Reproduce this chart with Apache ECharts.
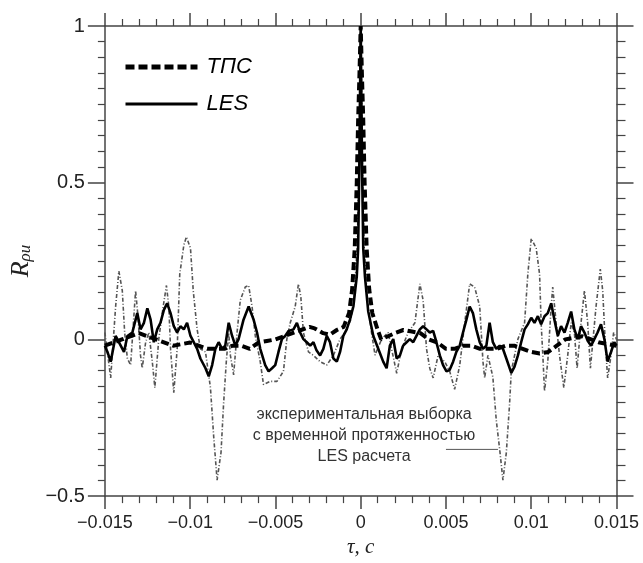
<!DOCTYPE html>
<html>
<head>
<meta charset="utf-8">
<script src="https://cdn.jsdelivr.net/npm/echarts@6/dist/echarts.min.js"></script>
<style>
  html, body { margin: 0; padding: 0; background: #fff; }
  #main { width: 643px; height: 563px; }
</style>
</head>
<body>
<div id="main"></div>
<script>
// tick labels
var xTicks = [-0.015, -0.01, -0.005, 0, 0.005, 0.01, 0.015];
var yTicks = [-0.5, 0, 0.5, 1];

// experimental sample (dash-dot)
var tauExp = [-0.015, -0.01466, -0.01437, -0.01418, -0.01398, -0.01384, -0.01368, -0.01349, -0.0133, -0.0132,
  -0.01306, -0.01291, -0.01281, -0.01261, -0.01242, -0.01222, -0.01207, -0.01184, -0.01158, -0.01139,
  -0.01125, -0.01115, -0.01096, -0.01076, -0.01061, -0.01037, -0.01022, -0.00998, -0.00982, -0.00959,
  -0.0094, -0.0091, -0.00881, -0.00862, -0.00842, -0.00819, -0.00804, -0.00788, -0.00774, -0.00764,
  -0.00745, -0.00725, -0.00706, -0.00677, -0.00657, -0.00637, -0.00618, -0.00589, -0.0057, -0.0053,
  -0.00491, -0.00453, -0.00433, -0.00413, -0.00384, -0.00365, -0.00351, -0.00336, -0.00306, -0.00277,
  -0.00238, -0.00199, -0.0016, -0.00121, -0.00092, -0.0006, -0.0004, -0.0002, -0.0001, 0,
  0.0001, 0.0002, 0.0004, 0.00064, 0.00084, 0.00123, 0.00161, 0.00201, 0.00211, 0.0024,
  0.00278, 0.00318, 0.00347, 0.00366, 0.00386, 0.00405, 0.00425, 0.00454, 0.00493, 0.00522,
  0.00551, 0.00581, 0.0061, 0.00639, 0.00668, 0.00698, 0.00717, 0.00727, 0.00746, 0.00775,
  0.00795, 0.00815, 0.00834, 0.00854, 0.00873, 0.00883, 0.00922, 0.00961, 0.0098, 0.01,
  0.01029, 0.01049, 0.01058, 0.01068, 0.01078, 0.01097, 0.01117, 0.01126, 0.01146, 0.01166,
  0.01191, 0.01214, 0.01234, 0.01253, 0.01269, 0.01292, 0.01312, 0.01331, 0.01347, 0.0138,
  0.01405, 0.01419, 0.01433, 0.01448, 0.01468, 0.01483, 0.015];
var valExp = [0.022, -0.123, 0.105, 0.218, 0.156, 0.022, -0.061, -0.082, 0.074, 0.156,
  0.074, -0.051, -0.092, -0.009, 0.022, -0.071, -0.154, 0.001, 0.105, 0.172,
  0.105, -0.03, -0.17, -0.03, 0.208, 0.301, 0.327, 0.291, 0.156, 0.032,
  -0.03, -0.04, -0.154, -0.31, -0.449, -0.361, -0.206, -0.071, 0.022, -0.051,
  -0.113, 0.022, 0.125, 0.167, 0.172, 0.105, 0.011, -0.071, -0.144, -0.134,
  -0.134, -0.102, 0.001, 0.053, 0.105, 0.177, 0.136, 0.022, -0.04, -0.051,
  -0.071, -0.082, -0.051, 0.001, 0.022, 0.06, 0.12, 0.3, 0.55, 1.0,
  0.55, 0.3, 0.12, 0.02, -0.05, 0.001, 0.022, -0.082, -0.108, -0.03,
  0.022, 0.053, 0.177, 0.125, -0.03, -0.092, -0.123, -0.051, -0.071, -0.102,
  -0.159, -0.082, 0.053, 0.177, 0.167, 0.105, -0.071, -0.123, -0.051, -0.12,
  -0.258, -0.351, -0.449, -0.361, -0.206, -0.102, 0.001, 0.053, 0.208, 0.322,
  0.291, 0.208, 0.053, -0.051, -0.165, -0.071, 0.105, 0.167, 0.053, -0.051,
  -0.154, -0.051, 0.053, 0.022, -0.092, 0.053, 0.156, 0.053, -0.092, 0.105,
  0.224, 0.156, 0.001, -0.123, -0.051, 0.022, 0.0];

// LES
var tauLes = [-0.015, -0.01485, -0.01466, -0.01437, -0.01418, -0.01388, -0.01368, -0.01339, -0.0131, -0.01291,
  -0.01271, -0.01251, -0.01232, -0.01213, -0.01193, -0.01174, -0.01154, -0.01135, -0.01115, -0.01096,
  -0.01076, -0.01057, -0.01037, -0.01018, -0.00998, -0.00979, -0.00959, -0.0094, -0.0091, -0.00891,
  -0.00871, -0.00852, -0.00833, -0.00813, -0.00794, -0.00774, -0.00754, -0.00735, -0.00716, -0.00687,
  -0.00657, -0.00628, -0.00608, -0.00589, -0.0056, -0.0054, -0.0052, -0.00501, -0.00482, -0.00462,
  -0.00443, -0.00423, -0.00394, -0.00374, -0.00355, -0.00336, -0.00316, -0.00296, -0.00277, -0.00259,
  -0.00238, -0.00219, -0.00199, -0.0018, -0.0016, -0.0014, -0.00121, -0.00102, -0.00082, -0.00063,
  -0.00043, -0.00023, -0.00015, -0.00008, 0,
  0.00008, 0.00015, 0.00025, 0.00044, 0.00074, 0.00103, 0.00132, 0.00152, 0.00171, 0.00191,
  0.00211, 0.0023, 0.00249, 0.00269, 0.00288, 0.00308, 0.00327, 0.00347, 0.00366, 0.00386,
  0.00405, 0.00425, 0.00444, 0.00464, 0.00483, 0.00503, 0.00522, 0.00542, 0.00561, 0.00581,
  0.006, 0.0062, 0.00639, 0.00658, 0.00678, 0.00698, 0.00717, 0.00737, 0.00756, 0.00775,
  0.00795, 0.00815, 0.00834, 0.00854, 0.00883, 0.00902, 0.00922, 0.00941, 0.00961, 0.0098,
  0.01, 0.01019, 0.01039, 0.01058, 0.01078, 0.01097, 0.01117, 0.01136, 0.01156, 0.01175,
  0.01195, 0.01214, 0.01234, 0.01253, 0.01273, 0.01292, 0.01312, 0.01331, 0.01351, 0.0137,
  0.01389, 0.01409, 0.01429, 0.01448, 0.01468, 0.01487, 0.015];
var valLes = [-0.02, -0.04, -0.071, 0.011, -0.009, -0.04, 0.011, 0.022, 0.084, 0.032,
  0.053, 0.099, 0.063, -0.009, 0.032, 0.053, 0.094, 0.115, 0.084, 0.042,
  0.022, 0.042, 0.032, 0.053, 0.011, -0.009, -0.03, -0.061, -0.092, -0.118,
  -0.082, -0.03, -0.009, -0.03, -0.02, 0.053, 0.011, -0.02, 0.001, 0.063,
  0.105, 0.063, 0.022, -0.03, -0.082, -0.102, -0.092, -0.082, -0.04, 0.001,
  0.011, 0.027, 0.032, 0.053, 0.022, 0.001, -0.009, -0.02, -0.009, -0.035,
  -0.051, -0.03, 0.011, -0.009, -0.061, -0.071, -0.04, 0.011, 0.032, 0.063,
  0.105, 0.2, 0.29, 0.55, 1.0,
  0.55, 0.29, 0.2, 0.09, 0.011, -0.03, -0.071, -0.092, -0.02, 0.001,
  -0.061, -0.051, -0.02, -0.009, 0.001, -0.009, 0.011, 0.032, 0.042, 0.032,
  0.022, 0.027, -0.009, -0.051, -0.082, -0.102, -0.097, -0.071, -0.04, -0.02,
  0.022, 0.063, 0.105, 0.084, 0.032, -0.009, -0.03, -0.02, 0.053, -0.009,
  -0.03, -0.02, -0.03, -0.061, -0.107, -0.087, -0.051, -0.009, 0.032, 0.048,
  0.069, 0.053, 0.074, 0.048, 0.074, 0.084, 0.115, 0.063, 0.011, 0.042,
  0.022, 0.053, 0.089, 0.032, 0.001, 0.042, 0.022, -0.004, -0.02, 0.001,
  0.022, 0.048, 0.001, -0.071, -0.04, -0.009, -0.02];

// ТПС
var tauTps = [-0.015, -0.014, -0.013, -0.012, -0.011, -0.01, -0.009, -0.0085, -0.008, -0.0075,
  -0.007, -0.0065, -0.006, -0.0055, -0.005, -0.0045, -0.004, -0.0035, -0.003, -0.0027,
  -0.0022, -0.0018, -0.0014, -0.001, -0.00068, -0.0005, -0.00035, -0.00023, -0.00015, -0.00007,
  0, 0.00007, 0.00015, 0.00023, 0.00035, 0.0005, 0.00068, 0.001, 0.0012, 0.0016,
  0.002, 0.0025, 0.003, 0.0035, 0.004, 0.0045, 0.005, 0.0055, 0.006, 0.0065,
  0.007, 0.0075, 0.008, 0.0085, 0.009, 0.0095, 0.01, 0.0105, 0.011, 0.0115,
  0.012, 0.013, 0.014, 0.015];
var valTps = [-0.02, 0.0, 0.02, 0.0, -0.02, -0.01, -0.03, -0.03, -0.03, -0.02,
  -0.02, -0.03, -0.01, -0.005, 0.0, 0.01, 0.02, 0.03, 0.04, 0.035,
  0.02, 0.015, 0.03, 0.04, 0.084, 0.16, 0.29, 0.5, 0.7, 0.85,
  1.0, 0.85, 0.7, 0.5, 0.29, 0.16, 0.084, 0.03, 0.0, 0.01,
  0.02, 0.03, 0.025, 0.02, 0.0, -0.01, -0.03, -0.03, -0.02, -0.02,
  -0.03, -0.03, -0.03, -0.02, -0.02, -0.03, -0.04, -0.045, -0.04, -0.02,
  0.0, 0.01, -0.01, -0.02];

function zip(a, b) {
  return a.map(function (t, i) { return [t, b[i]]; });
}
function fmt(v) {
  return String(v).replace('-', '\u2212');
}

var myChart = echarts.init(document.getElementById('main'));
var axisLineStyle = { color: '#444', width: 1.5 };
var minorStyle = { color: '#444', width: 1.2 };
var option = {
  animation: false,
  backgroundColor: '#fff',
  grid: { left: 103.5, right: 26.5, top: 26, bottom: 55 },
  legend: {
    orient: 'vertical',
    left: 118,
    top: 51,
    itemWidth: 72,
    itemHeight: 16,
    itemGap: 15,
    data: [
      { name: 'ТПС', lineStyle: { width: 5, type: [9, 4] } },
      { name: 'LES', lineStyle: { width: 3 } }
    ],
    itemStyle: { opacity: 0 },
    textStyle: { fontSize: 22, fontStyle: 'italic', fontFamily: 'Liberation Sans', color: '#000', padding: [0, 0, 0, 4] }
  },
  xAxis: [{
    type: 'value',
    min: -0.015, max: 0.015, interval: 0.005,
    name: 'τ, с',
    nameLocation: 'middle',
    nameGap: 36,
    nameTextStyle: { fontFamily: 'Liberation Serif', fontStyle: 'italic', fontSize: 21, color: '#222' },
    axisLine: { onZero: false, lineStyle: axisLineStyle },
    axisTick: { inside: false, length: 13, lineStyle: axisLineStyle },
    minorTick: { show: true, splitNumber: 5, length: 7, lineStyle: minorStyle },
    splitLine: { show: false },
    axisLabel: {
      margin: 18, fontSize: 18, color: '#222', fontFamily: 'Liberation Sans',
      formatter: function (v) { return xTicks.indexOf(v) >= 0 ? fmt(v) : ''; }
    }
  }, {
    type: 'value', position: 'top',
    min: -0.015, max: 0.015, interval: 0.005,
    axisLine: { onZero: false, lineStyle: axisLineStyle },
    axisTick: { inside: false, length: 13, lineStyle: axisLineStyle },
    minorTick: { show: true, splitNumber: 5, length: 7, lineStyle: minorStyle },
    splitLine: { show: false },
    axisLabel: { show: false }
  }],
  yAxis: [{
    type: 'value',
    min: -0.5, max: 1, interval: 0.5,
    name: '{r|R}{s|ρu}',
    nameLocation: 'middle',
    nameGap: 58,
    nameTextStyle: {
      rich: {
        r: { fontFamily: 'Liberation Serif', fontStyle: 'italic', fontSize: 26, color: '#222' },
        s: { fontFamily: 'Liberation Serif', fontStyle: 'italic', fontSize: 17, color: '#222', padding: [10, 0, 0, 0] }
      }
    },
    axisLine: { onZero: false, lineStyle: axisLineStyle },
    axisTick: { inside: false, length: 17, lineStyle: axisLineStyle },
    minorTick: { show: true, splitNumber: 10, length: 7, lineStyle: minorStyle },
    splitLine: { show: false },
    axisLabel: {
      margin: 20, fontSize: 20, color: '#222', fontFamily: 'Liberation Sans',
      formatter: function (v) { return yTicks.indexOf(v) >= 0 ? fmt(v) : ''; }
    }
  }, {
    type: 'value', position: 'right',
    min: -0.5, max: 1, interval: 0.5,
    axisLine: { onZero: false, lineStyle: axisLineStyle },
    axisTick: { inside: false, length: 17, lineStyle: axisLineStyle },
    minorTick: { show: true, splitNumber: 10, length: 9, lineStyle: minorStyle },
    splitLine: { show: false },
    axisLabel: { show: false }
  }],
  series: [{
    name: 'эксперимент',
    type: 'line',
    symbol: 'none',
    data: zip(tauExp, valExp),
    lineStyle: { color: '#555', width: 1.6, type: [4, 2, 1, 2] },
    z: 2
  }, {
    name: 'ТПС',
    type: 'line',
    symbol: 'none',
    data: zip(tauTps, valTps),
    lineStyle: { color: '#000', width: 4, type: [8, 4] },
    itemStyle: { color: '#000' },
    z: 3
  }, {
    name: 'LES',
    type: 'line',
    symbol: 'none',
    data: zip(tauLes, valLes),
    lineStyle: { color: '#000', width: 2.6 },
    itemStyle: { color: '#000' },
    z: 4
  }]
};
myChart.setOption(option);

// annotation anchored in data coordinates
var pText = myChart.convertToPixel({ xAxisIndex: 0, yAxisIndex: 0 }, [0.0002, -0.205]);
var pA = myChart.convertToPixel({ xAxisIndex: 0, yAxisIndex: 0 }, [0.005, -0.351]);
var pB = myChart.convertToPixel({ xAxisIndex: 0, yAxisIndex: 0 }, [0.00805, -0.351]);
myChart.setOption({
  graphic: [{
    type: 'text',
    x: pText[0], y: pText[1],
    style: {
      text: 'экспериментальная выборка\nс временной протяженностью\nLES расчета',
      textAlign: 'center',
      textVerticalAlign: 'top',
      fontSize: 16,
      lineHeight: 21,
      fontFamily: 'Liberation Sans',
      fill: '#333'
    },
    z: 10
  }, {
    type: 'line',
    shape: { x1: pA[0], y1: pA[1], x2: pB[0], y2: pB[1] },
    style: { stroke: '#555', lineWidth: 1 },
    z: 10
  }]
});
</script>
</body>
</html>
